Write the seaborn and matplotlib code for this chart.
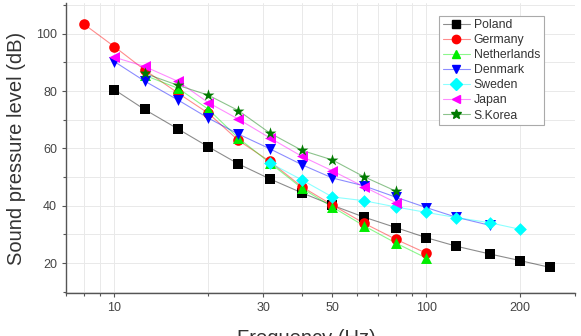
import matplotlib
matplotlib.use("Agg")
import matplotlib.pyplot as plt
from matplotlib.lines import Line2D
from matplotlib.ticker import FixedLocator, FixedFormatter, NullFormatter
import seaborn as sns
import pandas as pd

# values (third-octave bands, Hz -> dB)
poland_f = [10, 12.5, 16, 20, 25, 31.5, 40, 50, 63, 80, 100, 125, 160, 200, 250]
poland = [80.5, 73.6, 66.8, 60.6, 54.6, 49.4, 44.5, 40.2, 36.1, 32.4, 28.9, 25.9, 23.2, 20.9, 18.5]

germany_f = [8, 10, 12.5, 16, 20, 25, 31.5, 40, 50, 63, 80, 100]
germany = [103.3, 95.5, 87.4, 79.3, 72.3, 62.8, 55.5, 46.6, 40.3, 34.0, 28.3, 23.5]

netherlands_f = [12.5, 16, 20, 25, 31.5, 40, 50, 63, 80, 100]
netherlands = [85.5, 81.0, 73.7, 63.6, 55.0, 46.1, 39.6, 33.1, 27.0, 21.8]

denmark_f = [10, 12.5, 16, 20, 25, 31.5, 40, 50, 63, 80, 100, 125, 160]
denmark = [90.3, 83.5, 76.9, 70.6, 65.0, 59.9, 54.3, 49.7, 47.0, 43.0, 39.4, 36.0, 33.2]

sweden_f = [31.5, 40, 50, 63, 80, 100, 125, 160, 200]
sweden = [55.0, 49.0, 43.1, 41.8, 39.6, 37.7, 35.9, 34.1, 31.8]

japan_f = [10, 12.5, 16, 20, 25, 31.5, 40, 50, 63, 80]
japan = [91.8, 88.6, 83.4, 76.0, 70.2, 63.7, 57.2, 52.2, 46.7, 41.1]

korea_f = [12.5, 16, 20, 25, 31.5, 40, 50, 63, 80]
korea = [86.2, 82.0, 78.6, 73.2, 65.4, 59.3, 56.0, 50.2, 45.1]

countries = ["Poland", "Germany", "Netherlands", "Denmark", "Sweden", "Japan", "S.Korea"]
series = [(poland_f, poland), (germany_f, germany), (netherlands_f, netherlands),
          (denmark_f, denmark), (sweden_f, sweden), (japan_f, japan), (korea_f, korea)]
colors = ["#000000", "#ff0000", "#00ee00", "#0000ff", "#00ffff", "#ff00ff", "#007a00"]
markers = ["s", "o", "^", "v", "D", "<", "*"]
msizes = [42, 58, 62, 62, 42, 62, 80]

# long table for seaborn
rows = []
for name, (f, v) in zip(countries, series):
    for a, b in zip(f, v):
        rows.append({"freq": a, "level": b, "country": name})
df = pd.DataFrame(rows)

sns.set_theme(style="white")
plt.rcParams["font.family"] = ["Liberation Sans", "DejaVu Sans"]

fig = plt.figure(figsize=(5.81, 3.36), dpi=100)
ax = fig.add_axes([0.1136, 0.128, 0.876, 0.863])

palette = dict(zip(countries, colors))
sns.lineplot(data=df, x="freq", y="level", hue="country", hue_order=countries,
             palette=palette, estimator=None, sort=True, linewidth=0.8,
             alpha=0.45, legend=False, ax=ax, zorder=2)
for name, c, m, s in zip(countries, colors, markers, msizes):
    sub = df[df["country"] == name]
    sns.scatterplot(data=sub, x="freq", y="level", color=c, marker=m, s=s,
                    linewidth=0, ax=ax, legend=False, zorder=3)

ax.set_xscale("log")
ax.set_xlim(7, 300)
ax.set_ylim(9.6, 110.7)
ax.xaxis.set_major_locator(FixedLocator([10, 30, 50, 100, 200]))
ax.xaxis.set_major_formatter(FixedFormatter(["10", "30", "50", "100", "200"]))
ax.xaxis.set_minor_locator(FixedLocator([7, 8, 9, 20, 40, 60, 70, 80, 90, 300]))
ax.xaxis.set_minor_formatter(NullFormatter())
ax.yaxis.set_major_locator(FixedLocator([20, 40, 60, 80, 100]))
ax.yaxis.set_minor_locator(FixedLocator([10, 30, 50, 70, 90, 110]))

ax.grid(which="both", color="#e9e9e9", linewidth=0.7)
ax.set_axisbelow(True)
for sp in ["top", "right"]:
    ax.spines[sp].set_visible(False)
for sp in ["left", "bottom"]:
    ax.spines[sp].set_color("#555555")
    ax.spines[sp].set_linewidth(1.0)
ax.tick_params(which="both", direction="out", colors="#555555", labelcolor="#444444",
               labelsize=9, length=3, width=0.8, bottom=True, left=True)
ax.tick_params(which="minor", length=2)

ax.set_xlabel("Frequency (Hz)", fontsize=14.5, color="#333333")
ax.set_ylabel("Sound pressure level (dB)", fontsize=14.5, color="#333333")
ax.xaxis.set_label_coords(0.472, -0.125)
ax.yaxis.set_label_coords(-0.078, 0.5)

handles = []
for name, c, m in zip(countries, colors, markers):
    rgb = matplotlib.colors.to_rgb(c)
    handles.append(Line2D([], [], color=(*rgb, 0.45), lw=0.8, marker=m,
                          markerfacecolor=c, markeredgecolor=c, markersize=7 if m == "*" else 6))
leg = ax.legend(handles, countries, loc="upper right", bbox_to_anchor=(0.951, 0.978),
                fontsize=8.8, labelspacing=0.25, handlelength=2.2, handletextpad=0.35,
                borderpad=0.3, fancybox=False, framealpha=1, edgecolor="#aaaaaa")
leg.get_frame().set_linewidth(0.8)
for t in leg.get_texts():
    t.set_color("#333333")

fig.savefig("out.png", dpi=100)
